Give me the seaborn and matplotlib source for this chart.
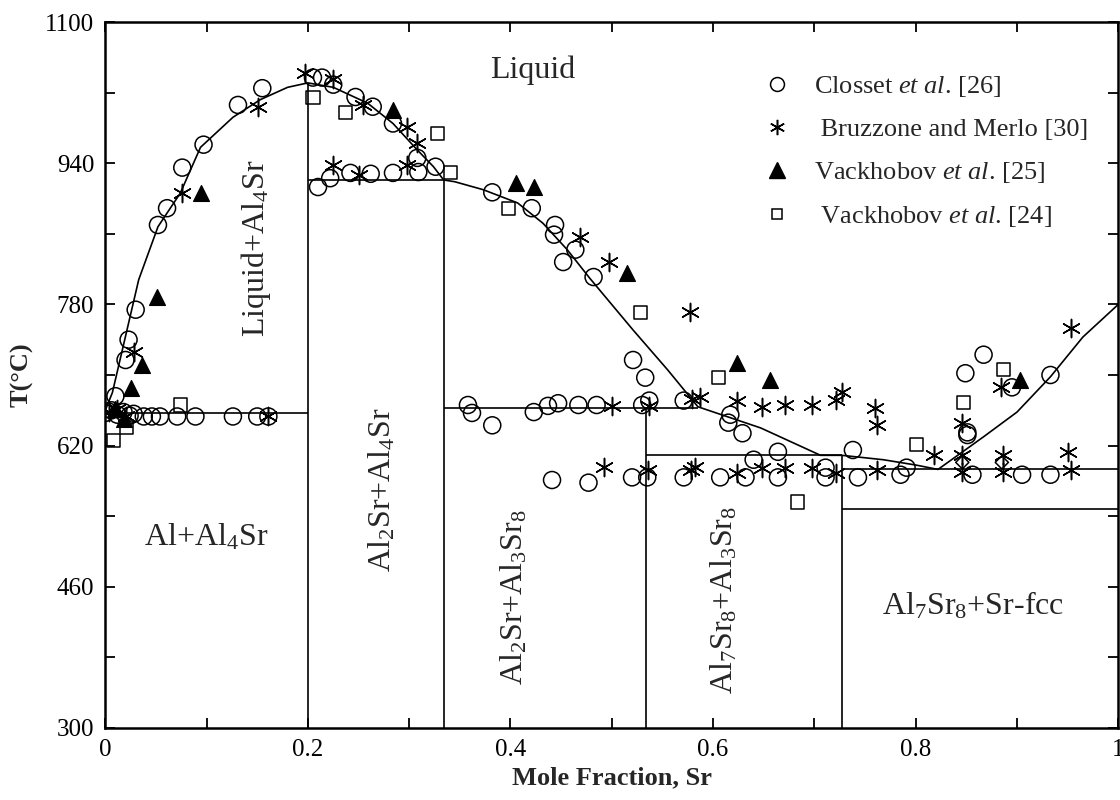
import matplotlib
matplotlib.use("Agg")
import matplotlib.pyplot as plt
import seaborn as sns
from matplotlib.lines import Line2D

# Data (mole fraction Sr, temperature in C)
liq_x = [0.0, 0.007, 0.033, 0.052, 0.074, 0.094, 0.126, 0.153, 0.180, 0.2,
         0.225, 0.259, 0.284, 0.308, 0.324, 0.334, 0.345, 0.373, 0.407, 0.432,
         0.456, 0.478, 0.521, 0.555, 0.585, 0.647, 0.706, 0.727, 0.768, 0.800,
         0.822, 0.867, 0.900, 0.933, 0.965, 1.0]
liq_T = [660, 680, 808, 868, 906, 958, 992, 1012, 1026, 1031,
         1026, 1008, 985, 955, 936, 921, 919, 910, 895, 872,
         842, 810, 751, 706, 664, 640, 609, 609, 604, 598,
         593, 630, 658, 698, 743, 780]

# vertical phase boundaries: x, top temperature
vline_x = [0.2, 0.334, 0.534, 0.727]
vline_top = [1031, 921, 663, 609]
# horizontal invariant lines: x start, x end, temperature
hline_x0 = [0.0, 0.2, 0.334, 0.534, 0.727, 0.727]
hline_x1 = [0.2, 0.334, 0.585, 0.727, 1.0, 1.0]
hline_T = [657, 921, 663, 609, 593, 548]

closset_x = [0.000, 0.006, 0.012, 0.018, 0.024, 0.028,
             0.010, 0.020, 0.023, 0.030,
             0.038, 0.046, 0.054, 0.071, 0.089, 0.126, 0.150, 0.161,
             0.052, 0.061, 0.076, 0.097, 0.131, 0.155,
             0.205, 0.214, 0.225, 0.247, 0.264, 0.284, 0.308, 0.326, 0.309,
             0.210, 0.222, 0.242, 0.262, 0.284,
             0.382, 0.421, 0.444, 0.443, 0.464, 0.452, 0.482,
             0.521, 0.533,
             0.358, 0.362, 0.382, 0.423, 0.437, 0.447, 0.467, 0.485, 0.530, 0.537, 0.571,
             0.617, 0.615, 0.629,
             0.441, 0.477, 0.520, 0.535, 0.571, 0.607, 0.632, 0.640,
             0.664, 0.664, 0.711, 0.711, 0.738, 0.743, 0.785, 0.791,
             0.849, 0.867, 0.851, 0.851, 0.856, 0.895, 0.905, 0.933, 0.933]
closset_T = [657, 660, 655, 658, 654, 656,
             676, 717, 740, 774,
             653, 653, 653, 653, 653, 653, 653, 653,
             870, 889, 935, 961, 1006, 1025,
             1037, 1037, 1029, 1015, 1004, 985, 946, 936, 930,
             913, 923, 929, 928, 929,
             907, 889, 870, 859, 842, 828, 811,
             717, 697,
             666, 657, 643, 658, 665, 668, 666, 666, 666, 671, 671,
             655, 646, 634,
             581, 578, 584, 584, 584, 584, 584, 604,
             613, 584, 595, 584, 615, 584, 587, 595,
             702, 723, 635, 632, 587, 686, 587, 700, 587]

bruz_x = [0.004, 0.012, 0.020, 0.028, 0.161,
          0.076, 0.151, 0.197, 0.225, 0.254, 0.298, 0.308,
          0.225, 0.250, 0.298,
          0.469, 0.497, 0.577,
          0.500, 0.537, 0.579, 0.587, 0.624, 0.648, 0.671, 0.698, 0.721, 0.727, 0.760, 0.762,
          0.492, 0.536, 0.578, 0.582, 0.624, 0.648, 0.671, 0.698, 0.721, 0.762,
          0.818, 0.846, 0.846, 0.846, 0.884, 0.886, 0.886, 0.953, 0.950, 0.953]
bruz_T = [658, 661, 654, 726, 653,
          906, 1004, 1042, 1035, 1006, 981, 963,
          938, 927, 938,
          856, 828, 771,
          665, 665, 673, 675, 670, 664, 666, 666, 672, 681, 663, 643,
          596, 592, 592, 596, 589, 595, 595, 595, 589, 592,
          609, 646, 609, 590, 686, 609, 590, 753, 613, 592]

vack25_x = [0.010, 0.018, 0.025, 0.036, 0.051, 0.094, 0.284, 0.405, 0.423,
            0.515, 0.624, 0.656, 0.903]
vack25_T = [662, 650, 685, 711, 788, 906, 1000, 918, 913,
            816, 714, 694, 694]

vack24_x = [0.008, 0.021, 0.074, 0.205, 0.237, 0.328, 0.341, 0.398, 0.528,
            0.605, 0.683, 0.801, 0.847, 0.887]
vack24_T = [626, 641, 666, 1014, 997, 974, 929, 889, 771,
            697, 556, 621, 669, 706]

extra_x = [0.846, 0.885]
extra_T = [601, 601]

region_labels = ["Liquid", "Liquid+Al$_4$Sr", "Al$_2$Sr+Al$_4$Sr", "Al+Al$_4$Sr",
                 "Al$_2$Sr+Al$_3$Sr$_8$", "Al$_7$Sr$_8$+Al$_3$Sr$_8$", "Al$_7$Sr$_8$+Sr-fcc"]
region_x = [0.422, 0.149, 0.273, 0.100, 0.404, 0.611, 0.857]
region_T = [1045, 844, 570, 516, 448, 445, 438]
region_rot = [0, 90, 90, 0, 90, 90, 0]

legend_labels = [r"Closset $\mathit{et\ al}$. [26]", " Bruzzone and Merlo [30]",
                 r"Vackhobov $\mathit{et\ al}$. [25]", r" Vackhobov $\mathit{et\ al}$. [24]"]

xtick_vals = [0, 0.2, 0.4, 0.6, 0.8, 1.0]
xtick_labels = ["0", "0.2", "0.4", "0.6", "0.8", "1"]
ytick_vals = [300, 460, 620, 780, 940, 1100]

sns.set_theme(style="ticks")
plt.rcParams["font.family"] = ["Liberation Serif", "DejaVu Serif"]
plt.rcParams["mathtext.fontset"] = "custom"
plt.rcParams["mathtext.rm"] = "Liberation Serif"
plt.rcParams["mathtext.it"] = "Liberation Serif:italic"
plt.rcParams["mathtext.bf"] = "Liberation Serif:bold"

fig = plt.figure(figsize=(11.2, 8), dpi=100)
ax = fig.add_axes([0.094, 0.09, 0.9045, 0.8825])

lw = 1.1
sns.lineplot(x=liq_x, y=liq_T, sort=False, estimator=None, color="black", lw=1.2, ax=ax)
ax.vlines(vline_x, 300, vline_top, color="black", lw=1.2)
ax.hlines(hline_T, hline_x0, hline_x1, color="black", lw=1.2)

sns.scatterplot(x=closset_x, y=closset_T, marker="o", s=150, fc="none", ec="black",
                linewidth=lw, ax=ax, zorder=3)
sns.scatterplot(x=bruz_x, y=bruz_T, marker=(6, 2, 0), s=170, color="black",
                linewidth=lw, ax=ax, zorder=3)
sns.scatterplot(x=vack25_x, y=vack25_T, marker="^", s=130, color="black",
                ec="black", ax=ax, zorder=3)
sns.scatterplot(x=vack24_x, y=vack24_T, marker="s", s=90, fc="none", ec="black",
                linewidth=lw, ax=ax, zorder=3)
sns.scatterplot(x=extra_x, y=extra_T, marker="D", s=45, fc="none", ec="black",
                linewidth=lw, ax=ax, zorder=3)

for lab, x, t, r in zip(region_labels, region_x, region_T, region_rot):
    ax.text(x, t, lab, rotation=r, ha="center", va="center", fontsize=23)

handles = [
    Line2D([], [], ls="none", marker="o", ms=10, mfc="none", mec="black", mew=1.1),
    Line2D([], [], ls="none", marker=(6, 2, 0), ms=11, color="black", mew=1.1),
    Line2D([], [], ls="none", marker="^", ms=11, color="black"),
    Line2D([], [], ls="none", marker="s", ms=7, mfc="none", mec="black", mew=1.1),
]
ax.legend(handles, legend_labels, loc="upper left", bbox_to_anchor=(0.627, 0.96),
          frameon=False, fontsize=19, labelspacing=0.72, handletextpad=0.9,
          handlelength=1.0)

ax.set_xlim(0, 1)
ax.set_ylim(300, 1100)
ax.set_xticks(xtick_vals)
ax.set_xticklabels(xtick_labels)
ax.set_xticks([0.1, 0.3, 0.5, 0.7, 0.9], minor=True)
ax.set_yticks(ytick_vals)
ax.set_yticks([380, 540, 700, 860, 1020], minor=True)
ax.tick_params(which="both", direction="in", top=True, right=True, length=7,
               width=1.3, labelsize=18, pad=8, colors="black")
for sp in ax.spines.values():
    sp.set_linewidth(1.8)
    sp.set_color("black")

ax.set_xlabel("Mole Fraction, Sr", fontsize=19, fontweight="bold", labelpad=4)
ax.set_ylabel("T(°C)", fontsize=19, fontweight="bold", labelpad=8)

fig.savefig("out.png", dpi=100)
